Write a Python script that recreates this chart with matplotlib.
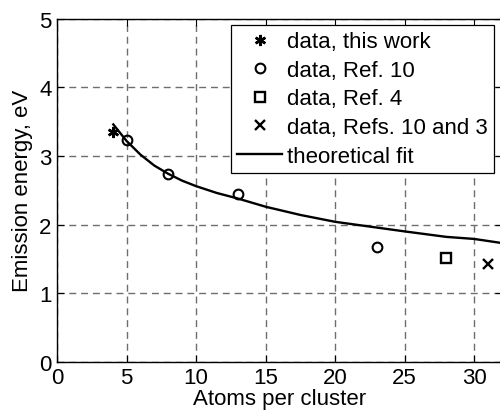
import numpy as np
import matplotlib
matplotlib.use('Agg')
import matplotlib.pyplot as plt

plt.rcParams['font.family'] = ['Liberation Sans', 'DejaVu Sans']

# data
this_x = [4]
this_y = [3.35]
ref10_x = [5, 8, 13, 23]
ref10_y = [3.24, 2.73, 2.45, 1.67]
ref4_x = [28]
ref4_y = [1.51]
ref103_x = [31]
ref103_y = [1.43]

fit_x = [4.05, 5, 6, 7, 8, 9, 10, 11.5, 13, 15, 17.5, 20, 22.5, 25, 28, 30, 32]
fit_y = [3.46, 3.22, 3.02, 2.86, 2.74, 2.64, 2.56, 2.46, 2.38, 2.26, 2.14, 2.04, 1.97, 1.90, 1.82, 1.79, 1.73]

fig = plt.figure(figsize=(5.0, 4.14), dpi=100)
ax = fig.add_axes([0.114, 0.124, 0.89, 0.828])

ax.plot(this_x, this_y, linestyle='none', marker=(6, 2, 0), markersize=8,
        markeredgewidth=1.8, color='black', label='data, this work')
ax.plot(ref10_x, ref10_y, linestyle='none', marker='o', markersize=7,
        markerfacecolor='none', markeredgewidth=1.5, color='black', label='data, Ref. 10')
ax.plot(ref4_x, ref4_y, linestyle='none', marker='s', markersize=6.5,
        markerfacecolor='none', markeredgewidth=1.7, color='black', label='data, Ref. 4')
ax.plot(ref103_x, ref103_y, linestyle='none', marker='x', markersize=6.5,
        markeredgewidth=1.7, color='black', label='data, Refs. 10 and 3')
ax.plot(fit_x, fit_y, color='black', linewidth=1.7, label='theoretical fit')

ax.set_xlim(0, 32)
ax.set_ylim(0, 5)
ax.set_xticks([0, 5, 10, 15, 20, 25, 30])
ax.set_yticks([0, 1, 2, 3, 4, 5])
ax.grid(True, linestyle=(0, (5, 3.5)), color='#6e6e6e', linewidth=1.0)
ax.set_axisbelow(True)
ax.tick_params(direction='in', top=True, right=True, labelsize=16, length=5, pad=4)
for s in ax.spines.values():
    s.set_linewidth(1.0)

ax.set_xlabel('Atoms per cluster', fontsize=16, labelpad=0)
ax.set_ylabel('Emission energy, eV', fontsize=16, labelpad=4)

leg = ax.legend(loc='upper right', bbox_to_anchor=(0.981, 0.981), fontsize=16,
                frameon=True, fancybox=False, framealpha=1, edgecolor='black',
                handlelength=2.0, handletextpad=0.22, labelspacing=0.34,
                borderpad=0.27, borderaxespad=0)
leg.get_frame().set_linewidth(0.9)

fig.savefig('out.png', dpi=100)
